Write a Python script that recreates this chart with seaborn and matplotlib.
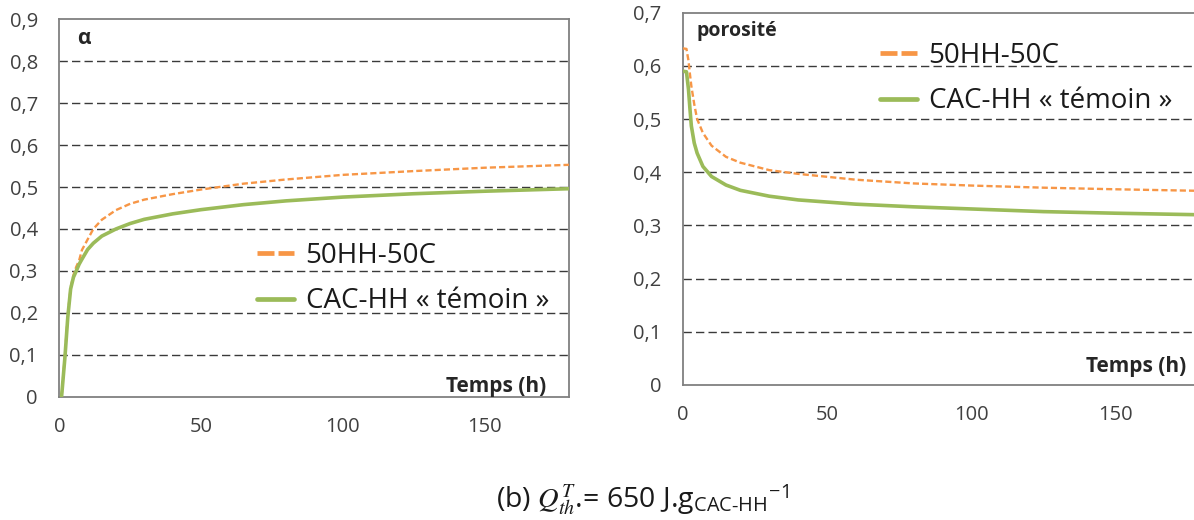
import matplotlib
matplotlib.use("Agg")
import matplotlib.pyplot as plt
from matplotlib.lines import Line2D
import pandas as pd
import seaborn as sns

# alpha (degree of hydration) vs time
t_alpha = [0.8, 2, 3, 4, 5, 6, 7, 8, 10, 12, 15, 20, 25, 30, 40, 50, 65, 80, 100, 125, 150, 180]
alpha_50hh = [0, 0.10, 0.195, 0.26, 0.29, 0.31, 0.325, 0.35, 0.375, 0.40, 0.422, 0.445, 0.46, 0.47, 0.483, 0.494, 0.508, 0.518, 0.529, 0.538, 0.546, 0.553]
alpha_cac = [0, 0.095, 0.19, 0.257, 0.285, 0.30, 0.316, 0.328, 0.351, 0.366, 0.383, 0.40, 0.413, 0.423, 0.436, 0.446, 0.458, 0.467, 0.476, 0.484, 0.49, 0.496]

# porosity vs time
t_poro = [0, 1.3, 2, 2.5, 3, 4, 5, 7, 10, 15, 20, 30, 40, 60, 80, 100, 125, 150, 180]
poro_50hh = [0.633, 0.632, 0.61, 0.585, 0.562, 0.528, 0.50, 0.474, 0.45, 0.429, 0.418, 0.404, 0.397, 0.386, 0.379, 0.375, 0.371, 0.368, 0.365]
poro_cac = [0.59, 0.589, 0.556, 0.52, 0.487, 0.455, 0.436, 0.411, 0.392, 0.376, 0.366, 0.355, 0.348, 0.34, 0.335, 0.331, 0.326, 0.323, 0.32]

series_names = ["50HH-50C", "CAC-HH « témoin »"]
alpha_ticks = [0, 0.1, 0.2, 0.3, 0.4, 0.5, 0.6, 0.7, 0.8, 0.9]
poro_ticks = [0, 0.1, 0.2, 0.3, 0.4, 0.5, 0.6, 0.7]
x_ticks = [0, 50, 100, 150]

ORANGE = "#F79646"
GREEN = "#9BBB59"
GRID = "#3a3a3a"
SPINE = "#808080"
TICKTXT = "#404040"

sns.set_style("white")
plt.rcParams["font.family"] = ["Open Sans", "DejaVu Sans"]
plt.rcParams["mathtext.fontset"] = "stix"

df_alpha = pd.concat([
    pd.DataFrame({"t": t_alpha, "v": alpha_50hh, "serie": series_names[0]}),
    pd.DataFrame({"t": t_alpha, "v": alpha_cac, "serie": series_names[1]}),
])
df_poro = pd.concat([
    pd.DataFrame({"t": t_poro, "v": poro_50hh, "serie": series_names[0]}),
    pd.DataFrame({"t": t_poro, "v": poro_cac, "serie": series_names[1]}),
])

W, H = 1194, 520
fig = plt.figure(figsize=(W / 100, H / 100), dpi=100)


def px_axes(x0, y0, x1, y1):
    return fig.add_axes([x0 / W, 1 - y1 / H, (x1 - x0) / W, (y1 - y0) / H])


def fig_xy(x, y):
    return x / W, 1 - y / H


ax1 = px_axes(59.3, 19.3, 569.3, 396.7)
ax2 = px_axes(682.7, 12.7, 1202, 385)  # right edge runs off the picture


def style_panel(ax, df, yticks):
    sns.lineplot(data=df[df.serie == series_names[0]], x="t", y="v", ax=ax,
                 color=ORANGE, lw=1.7, linestyle=(0, (2.6, 1.3)), zorder=4)
    sns.lineplot(data=df[df.serie == series_names[1]], x="t", y="v", ax=ax,
                 color=GREEN, lw=2.6, zorder=5)
    ax.set_xlim(0, 180)
    ax.set_ylim(0, yticks[-1])
    ax.set_xticks(x_ticks)
    ax.set_yticks(yticks)
    ax.set_yticklabels([("%g" % v).replace(".", ",") for v in yticks])
    ax.set_xlabel("")
    ax.set_ylabel("")
    for yv in yticks[1:-1]:
        ax.axhline(yv, color=GRID, lw=1, linestyle=(0, (6, 3)), zorder=1)
    for s in ax.spines.values():
        s.set_color(SPINE)
        s.set_linewidth(1.3)
    ax.tick_params(axis="both", direction="out", length=5.5, width=1, color=SPINE,
                   labelsize=14.5, labelcolor=TICKTXT)
    ax.tick_params(axis="y", pad=10)
    ax.tick_params(axis="x", pad=9)
    if ax.get_legend() is not None:
        ax.get_legend().remove()


style_panel(ax1, df_alpha, alpha_ticks)
style_panel(ax2, df_poro, poro_ticks)

# panel labels
fig.text(*fig_xy(77, 43.5), "α", fontsize=15, fontweight="bold", ha="left", va="baseline")
fig.text(*fig_xy(696, 36), "porosité", fontsize=14, fontweight="bold", ha="left", va="baseline")

# "Temps (h)" labels, left one cut by the axis bottom
t1 = ax1.text(*fig_xy(546, 392), "Temps (h)", transform=fig.transFigure, fontsize=15,
              fontweight="bold", ha="right", va="baseline", clip_on=True)
t1.set_clip_box(ax1.bbox)
fig.text(*fig_xy(1186, 372), "Temps (h)", fontsize=15, fontweight="bold", ha="right", va="baseline")

handles = [Line2D([], [], color=ORANGE, lw=3.4, linestyle=(0, (3.6, 0.85))),
           Line2D([], [], color=GREEN, lw=3.4)]
for lx, ly in [(257, 242), (880, 42)]:
    fig.legend(handles, series_names, loc="upper left", bbox_to_anchor=fig_xy(lx, ly),
               frameon=False, fontsize=20, handlelength=1.33, handletextpad=0.42,
               labelspacing=0.62, borderpad=0, borderaxespad=0, labelcolor="#1a1a1a")

fig.text(*fig_xy(643, 508),
         r"(b) $Q_{th}^{T}$.= 650 J.g$_{\mathregular{CAC\text{-}HH}}$$^{\mathregular{-1}}$",
         fontsize=20.5, ha="center", va="baseline", color="#1a1a1a")

fig.savefig("out.png", dpi=100)
